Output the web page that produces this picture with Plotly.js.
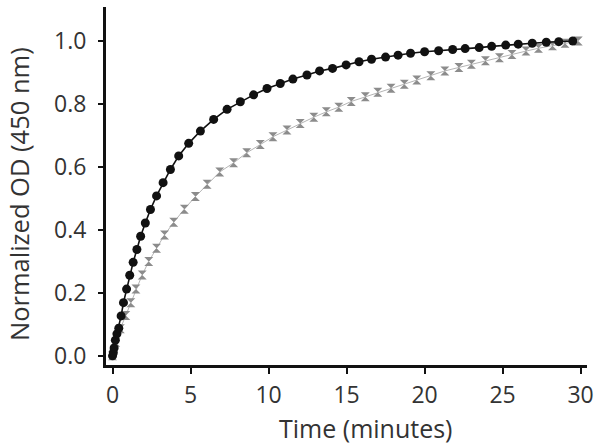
<!DOCTYPE html>
<html>
<head>
<meta charset="utf-8">
<script src="https://cdn.plot.ly/plotly-3.0.1.min.js"></script>
<style>html,body{margin:0;padding:0;background:#fff;}#chart{width:601px;height:445px;}</style>
</head>
<body>
<div id="chart"></div>
<script>
// Black series (filled circles)
var blackTime = [0, 0.05, 0.1, 0.18, 0.28, 0.4, 0.55, 0.7, 0.9, 1.1, 1.32, 1.56, 1.8, 2.1, 2.43, 2.82, 3.24, 3.71, 4.24, 4.88, 5.63, 6.48, 7.34, 8.19, 9.04, 9.9, 10.75, 11.56, 12.46, 13.27, 14.1, 14.97, 15.8, 16.6, 17.5, 18.3, 19.1, 20.0, 20.9, 21.8, 22.6, 23.5, 24.3, 25.2, 26.0, 26.9, 27.8, 28.6, 29.5];
var blackOD = [0, 0.01, 0.025, 0.05, 0.07, 0.088, 0.127, 0.169, 0.212, 0.256, 0.297, 0.338, 0.38, 0.422, 0.465, 0.508, 0.55, 0.592, 0.635, 0.675, 0.714, 0.751, 0.783, 0.807, 0.829, 0.849, 0.865, 0.879, 0.892, 0.905, 0.913, 0.924, 0.934, 0.942, 0.949, 0.955, 0.961, 0.966, 0.969, 0.973, 0.976, 0.979, 0.983, 0.987, 0.99, 0.993, 0.996, 0.998, 1.0];
// Gray series (hourglass markers)
var grayTime = [0, 0.2, 0.5, 0.85, 1.17, 1.5, 1.9, 2.32, 2.82, 3.33, 3.92, 4.6, 5.31, 6.06, 6.87, 7.76, 8.6, 9.47, 10.28, 11.18, 12.03, 12.9, 13.7, 14.5, 15.3, 16.2, 17.0, 17.85, 18.7, 19.5, 20.4, 21.3, 22.2, 23.0, 23.9, 24.8, 25.6, 26.5, 27.3, 28.2, 29.0, 29.85];
var grayOD = [0, 0.043, 0.086, 0.128, 0.169, 0.212, 0.257, 0.3, 0.342, 0.384, 0.424, 0.466, 0.506, 0.545, 0.584, 0.613, 0.645, 0.671, 0.696, 0.717, 0.738, 0.758, 0.775, 0.79, 0.808, 0.823, 0.837, 0.85, 0.863, 0.876, 0.89, 0.905, 0.916, 0.926, 0.937, 0.947, 0.957, 0.968, 0.977, 0.985, 0.993, 1.0];

var xTicks = [0, 5, 10, 15, 20, 25, 30];
var yTicks = [0, 0.2, 0.4, 0.6, 0.8, 1.0];
var xTitle = 'Time (minutes)';
var yTitle = 'Normalized OD (450 nm)';

var traces = [
  {x: grayTime, y: grayOD, type: 'scatter', mode: 'lines+markers',
   line: {color: '#b5b5b5', width: 1},
   marker: {symbol: 'hourglass', size: 9, color: '#8c8c8c', line: {width: 0}},
   showlegend: false, hoverinfo: 'skip'},
  {x: blackTime, y: blackOD, type: 'scatter', mode: 'lines+markers',
   line: {color: '#111', width: 1.6},
   marker: {symbol: 'circle', size: 9, color: '#111', line: {width: 0}},
   showlegend: false, hoverinfo: 'skip'}
];

var fontFam = 'Open Sans, Noto Sans, sans-serif';
var W = 601, H = 445, mL = 106, mR = 14, mT = 7, mB = 80;
var pw = W - mL - mR, ph = H - mT - mB;
var layout = {
  width: W, height: H,
  margin: {l: mL, r: mR, t: mT, b: mB, pad: 0},
  paper_bgcolor: '#fff', plot_bgcolor: '#fff',
  font: {family: fontFam, color: '#333'},
  xaxis: {
    range: [-0.42, 30.41], tickvals: xTicks, ticktext: xTicks.map(String),
    showline: true, linecolor: '#111', linewidth: 3, mirror: false,
    ticks: 'outside', ticklen: 6, tickwidth: 2, tickcolor: '#111',
    showgrid: false, zeroline: false, ticklabelstandoff: 1,
    tickfont: {size: 23, color: '#333', family: fontFam}
  },
  yaxis: {
    range: [-0.029, 1.108], tickvals: yTicks, ticktext: yTicks.map(function(v){return v.toFixed(1);}),
    showline: true, linecolor: '#111', linewidth: 3, mirror: false,
    ticks: 'outside', ticklen: 5, tickwidth: 2, tickcolor: '#111',
    showgrid: false, zeroline: false, ticklabelstandoff: 7,
    tickfont: {size: 23, color: '#333', family: fontFam}
  },
  annotations: [
    {text: xTitle, xref: 'paper', yref: 'paper', x: (366 - mL) / pw, y: (H - mB - 428) / ph,
     xanchor: 'center', yanchor: 'middle', showarrow: false,
     font: {size: 25, color: '#333', family: fontFam}},
    {text: yTitle, xref: 'paper', yref: 'paper', x: (19 - mL) / pw, y: (H - mB - 194) / ph,
     xanchor: 'center', yanchor: 'middle', showarrow: false, textangle: -90,
     font: {size: 25.5, color: '#333', family: fontFam}}
  ]
};

Plotly.newPlot('chart', traces, layout, {staticPlot: true, displayModeBar: false});
</script>
</body>
</html>
